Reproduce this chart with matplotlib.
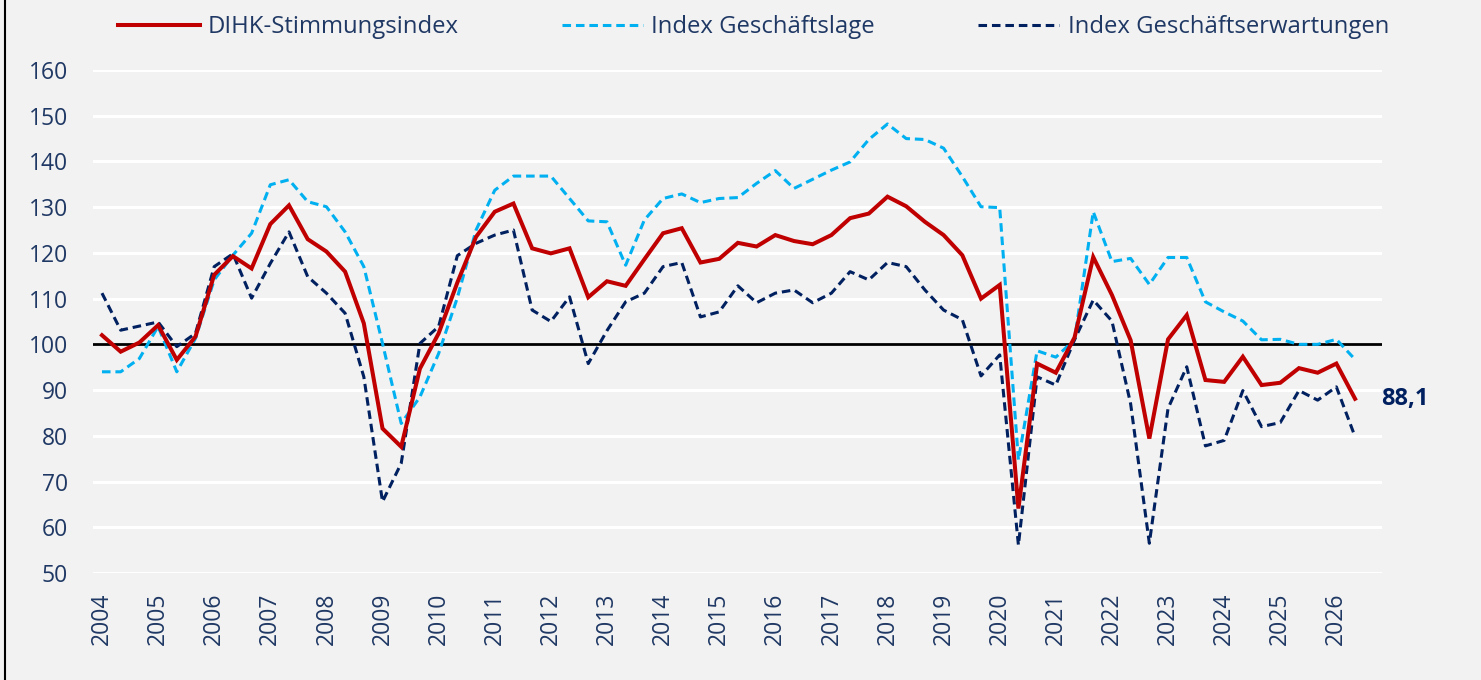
import matplotlib
matplotlib.use("Agg")
import matplotlib.pyplot as plt
from matplotlib.lines import Line2D

# ---- data (three surveys per year: start of year, early summer, autumn) ----
year_labels = ["2004", "2005", "2006", "2007", "2008", "2009", "2010", "2011",
               "2012", "2013", "2014", "2015", "2016", "2017", "2018", "2019",
               "2020", "2021", "2022", "2023", "2024", "2025", "2026"]

stimmung = [102.0, 98.4, 100.4, 104.2, 96.6, 101.7, 115.2, 119.3, 116.6, 126.3,
            130.4, 123.0, 120.3, 115.9, 104.6, 81.6, 77.6, 94.7, 102.4, 113.5,
            123.5, 129.0, 130.8, 121.0, 119.9, 121.0, 110.3, 113.8, 112.8, 118.6,
            124.3, 125.4, 117.9, 118.7, 122.2, 121.4, 123.9, 122.6, 121.9, 123.9,
            127.6, 128.6, 132.3, 130.2, 126.8, 123.9, 119.5, 110.0, 113.0, 64.1,
            95.8, 93.8, 101.5, 119.1, 110.8, 100.9, 79.4, 101.1, 106.4, 92.2,
            91.8, 97.3, 91.1, 91.6, 94.8, 93.8, 95.8, 88.1]

lage = [94.0, 94.0, 96.9, 103.9, 94.0, 101.3, 114.1, 119.5, 124.3, 134.9,
        136.0, 131.2, 130.1, 124.6, 117.0, 100.2, 82.7, 88.5, 98.0, 110.2,
        125.0, 133.7, 136.8, 136.8, 136.8, 131.9, 127.0, 126.8, 117.3, 127.2,
        131.9, 132.9, 131.0, 131.9, 132.1, 135.2, 138.0, 134.1, 136.1, 138.1,
        139.9, 144.8, 148.2, 145.0, 144.8, 142.9, 136.7, 130.1, 129.9, 74.7,
        98.6, 97.2, 101.0, 129.0, 118.1, 118.8, 113.1, 119.0, 119.0, 109.3,
        107.1, 105.1, 101.0, 101.1, 100.0, 100.0, 101.1, 96.7]

erwartungen = [111.2, 103.1, 104.0, 104.9, 99.5, 102.4, 117.0, 119.8, 110.1, 117.7,
               124.6, 114.8, 111.2, 106.8, 92.9, 65.6, 74.0, 100.2, 103.9, 119.4,
               122.1, 123.9, 125.0, 107.5, 105.0, 110.4, 95.8, 103.0, 109.3, 111.2,
               117.0, 117.9, 106.0, 107.1, 112.8, 109.1, 111.2, 111.9, 109.1, 111.2,
               115.9, 114.1, 117.9, 117.0, 111.9, 107.5, 105.4, 93.1, 97.7, 56.1,
               92.9, 91.1, 101.0, 109.7, 105.1, 87.0, 56.5, 86.0, 95.1, 77.8,
               79.0, 89.9, 82.0, 82.9, 89.9, 87.8, 90.7, 79.8]

last_label = "88,1"
y_ticks = [50, 60, 70, 80, 90, 100, 110, 120, 130, 140, 150, 160]

# ---- style ----
BG = "#f2f2f2"
RED = "#c00000"
LBLUE = "#00b0f0"
NAVY = "#002060"
TXT = "#1f3864"
FONT = ["Open Sans", "DejaVu Sans"]
plt.rcParams["font.family"] = FONT

fig = plt.figure(figsize=(14.81, 6.80), dpi=100, facecolor=BG)
ax = fig.add_axes([93 / 1481, 1 - 573 / 680, (1382 - 93) / 1481, (573 - 70) / 680])
ax.set_facecolor(BG)

x = list(range(len(stimmung)))

ax.set_ylim(50, 160)
ax.set_xlim(-0.48, 68.44)
ax.set_yticks(y_ticks)
ax.set_xticks(x[::3])
ax.set_xticklabels(year_labels, rotation=90)
ax.grid(axis="y", color="white", linewidth=2.2)
ax.set_axisbelow(True)
for s in ax.spines.values():
    s.set_visible(False)
ax.tick_params(axis="both", length=0, labelsize=16.5, labelcolor=TXT)
ax.tick_params(axis="y", pad=18)
ax.tick_params(axis="x", pad=14)

ax.axhline(100, color="black", linewidth=2.0, zorder=2)

l_lage, = ax.plot(x, lage, color=LBLUE, linewidth=2.2, dashes=(2.8, 1.6),
                  label="Index Geschäftslage", zorder=3)
l_erw, = ax.plot(x, erwartungen, color=NAVY, linewidth=2.2, dashes=(2.8, 1.6),
                 label="Index Geschäftserwartungen", zorder=3)
l_st, = ax.plot(x, stimmung, color=RED, linewidth=2.9, solid_joinstyle="miter",
                label="DIHK-Stimmungsindex", zorder=4)

ax.annotate(last_label, xy=(x[-1], stimmung[-1]), xytext=(19, 0),
            textcoords="offset points", va="center", ha="left",
            fontsize=17, fontweight="bold", color=NAVY)

leg = fig.legend(handles=[l_st, l_lage, l_erw], loc="upper left",
                 bbox_to_anchor=(118 / 1481, 1 - 15 / 680), ncol=3, frameon=False,
                 fontsize=17.2, handlelength=3.42, handletextpad=0.34,
                 columnspacing=4.3, borderpad=0, borderaxespad=0)
for t in leg.get_texts():
    t.set_color(TXT)

# left frame line
fig.add_artist(Line2D([5 / 1481, 5 / 1481], [0, 1], transform=fig.transFigure,
                      color="black", linewidth=1.5))

fig.savefig("out.png", dpi=100, facecolor=BG)
